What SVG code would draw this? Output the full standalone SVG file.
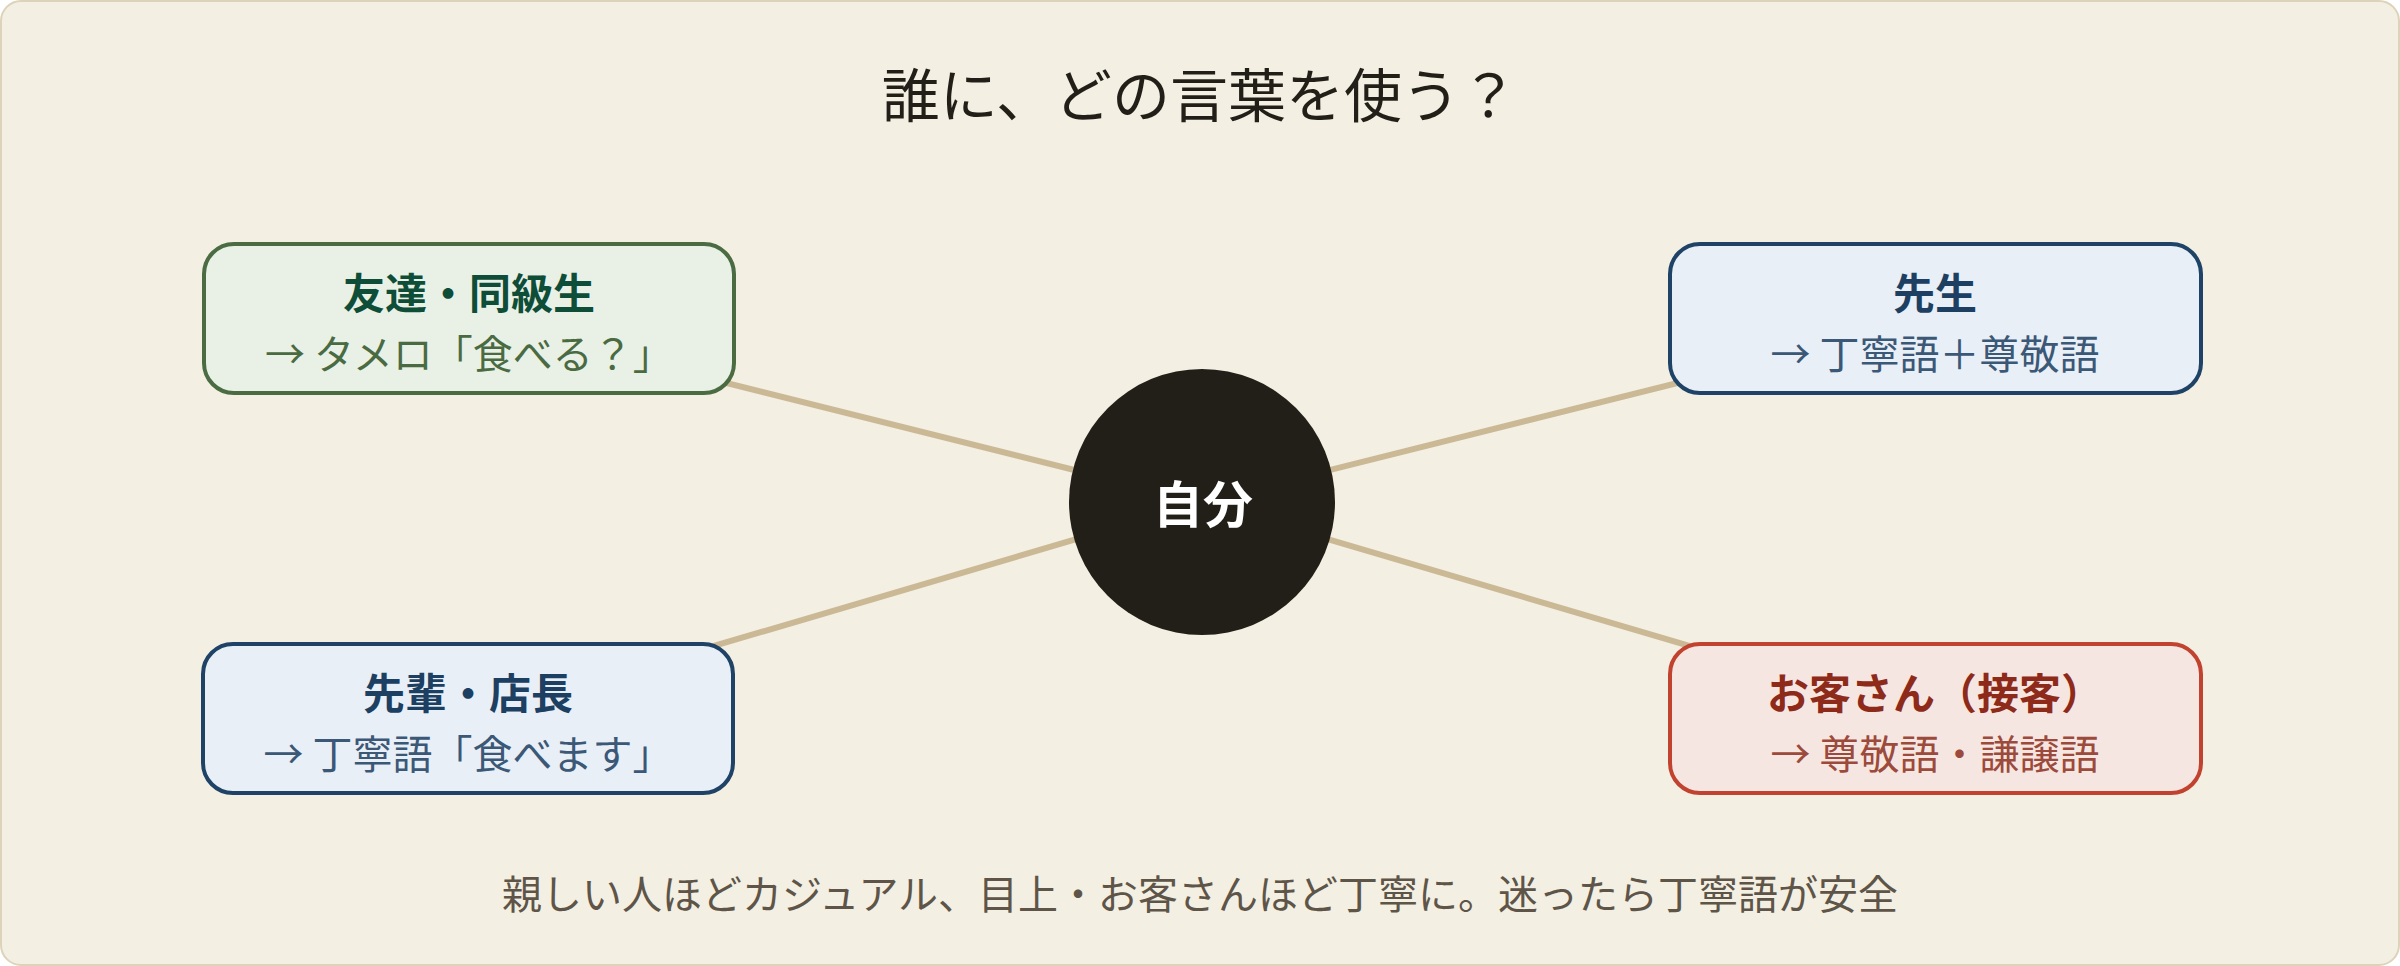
<svg xmlns="http://www.w3.org/2000/svg" width="2400" height="966" viewBox="0 0 2400 966">
  <style>
    .jp { font-family: "Noto Sans CJK JP", "Noto Sans", sans-serif; }
    .ttl { font-family: "Liberation Serif", "Noto Sans CJK JP", serif; font-size: 58px; fill: #221f18; }
    .h { font-size: 42px; font-weight: 700; text-anchor: middle; }
    .s { font-size: 40px; font-weight: 400; text-anchor: middle; }
    .box { stroke-width: 4; }
    .conn { stroke: #cbb995; stroke-width: 6; stroke-linecap: round; fill: none; }
    .green rect { fill: #e9f1e6; stroke: #4b6b43; }
    .green .h { fill: #0e4d38; }
    .green .s { fill: #4a6b42; }
    .blue rect { fill: #e9eff6; stroke: #1e4366; }
    .blue .h { fill: #1c3f62; }
    .blue .s { fill: #3b5877; }
    .red rect { fill: #f6e6e2; stroke: #c1432f; }
    .red .h { fill: #8e2a1a; }
    .red .s { fill: #9c4a3b; }
  </style>
  <rect x="1" y="1" width="2398" height="964" rx="20" fill="#f3efe3" stroke="#ddd3bb" stroke-width="2"/>
  <text class="ttl" x="1200" y="117" text-anchor="middle">誰に、どの言葉を使う？</text>

  <g id="connectors">
    <line class="conn" x1="1202" y1="502" x2="469" y2="318.5"/>
    <line class="conn" x1="1202" y1="502" x2="1935" y2="318.5"/>
    <line class="conn" x1="1202" y1="502" x2="468" y2="718.5"/>
    <line class="conn" x1="1202" y1="502" x2="1935" y2="718.5"/>
  </g>

  <g id="friends" class="green jp">
    <rect class="box" x="204" y="244" width="530" height="149" rx="30"/>
    <text class="h" x="469" y="309">友達・同級生</text>
    <text class="s" x="469" y="369">→ タメロ「食べる？」</text>
  </g>

  <g id="teacher" class="blue jp">
    <rect class="box" x="1670" y="244" width="531" height="149" rx="30"/>
    <text class="h" x="1935" y="309">先生</text>
    <text class="s" x="1935" y="369">→ 丁寧語＋尊敬語</text>
  </g>

  <g id="senpai" class="blue jp">
    <rect class="box" x="203" y="644" width="530" height="149" rx="30"/>
    <text class="h" x="468" y="709">先輩・店長</text>
    <text class="s" x="468" y="769">→ 丁寧語「食べます」</text>
  </g>

  <g id="customer" class="red jp">
    <rect class="box" x="1670" y="644" width="531" height="149" rx="30"/>
    <text class="h" x="1935" y="709">お客さん（接客）</text>
    <text class="s" x="1935" y="769">→ 尊敬語・謙譲語</text>
  </g>

  <g id="self">
    <circle cx="1202" cy="502" r="133" fill="#221f18"/>
    <text class="jp" x="1203" y="523" font-size="50" font-weight="700" fill="#ffffff" text-anchor="middle">自分</text>
  </g>

  <text class="jp" x="1200" y="909" font-size="40" fill="#5e5548" text-anchor="middle">親しい人ほどカジュアル、目上・お客さんほど丁寧に。迷ったら丁寧語が安全</text>
</svg>
